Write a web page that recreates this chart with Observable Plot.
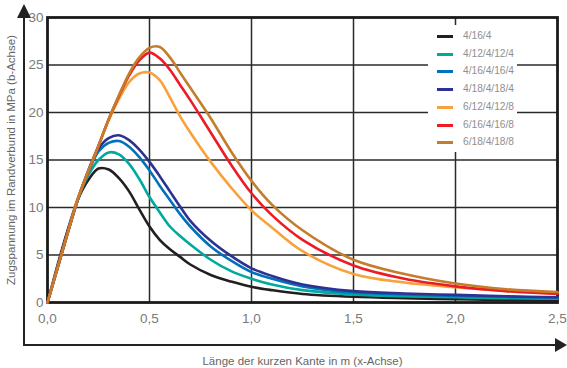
<!DOCTYPE html>
<html>
<head>
<meta charset="utf-8">
<script src="https://cdn.jsdelivr.net/npm/d3@7"></script>
<script src="https://cdn.jsdelivr.net/npm/@observablehq/plot@0.6"></script>
<style>
  html, body { margin: 0; padding: 0; background: #fff; }
  #wrap { position: relative; width: 567px; height: 368px; overflow: hidden; }
  #legend { position: absolute; left: 428px; top: 25px; width: 89px; height: 127px; background: #fff;
            font-family: "Liberation Sans", Arial, sans-serif; font-size: 10.2px; color: #8f8f8f; }
  .row { position: absolute; left: 0; height: 12px; }
  .sw { position: absolute; left: 9px; width: 16px; height: 3px; }
  .lb { position: absolute; left: 35px; white-space: nowrap; line-height: 12px; }
</style>
</head>
<body>
<div id="wrap"><div id="legend"></div></div>
<script>
// x positions (m)
const xs = [0, 0.05, 0.1, 0.15, 0.2, 0.25, 0.3, 0.35, 0.4, 0.45, 0.5, 0.55, 0.6, 0.65, 0.7, 0.8, 0.9, 1.0, 1.1, 1.25, 1.5, 1.75, 2.0, 2.25, 2.5];

// Zugspannung (MPa) per configuration
const y_4_16_4       = [0, 4.0, 7.7, 10.9, 12.9, 14.1, 14.0, 13.1, 11.7, 9.8, 8.0, 6.6, 5.6, 4.8, 4.0, 2.9, 2.2, 1.65, 1.3, 0.9, 0.6, 0.45, 0.35, 0.25, 0.2];
const y_4_12_4_12_4  = [0, 3.7, 7.4, 10.9, 13.4, 15.0, 15.8, 15.6, 14.6, 13.0, 11.1, 9.5, 8.0, 7.0, 6.1, 4.5, 3.3, 2.5, 1.9, 1.3, 0.85, 0.65, 0.55, 0.45, 0.4];
const y_4_16_4_16_4  = [0, 3.7, 7.4, 10.9, 13.7, 15.9, 16.8, 17.0, 16.4, 15.3, 13.9, 12.3, 10.8, 9.3, 8.0, 5.9, 4.4, 3.2, 2.5, 1.7, 1.05, 0.85, 0.7, 0.6, 0.5];
const y_4_18_4_18_4  = [0, 3.7, 7.4, 10.9, 13.9, 16.2, 17.3, 17.6, 17.1, 16.1, 14.8, 13.3, 11.7, 10.1, 8.6, 6.5, 4.9, 3.6, 2.8, 1.9, 1.2, 0.95, 0.8, 0.65, 0.55];
const y_6_12_4_12_8  = [0, 3.7, 7.4, 11.0, 13.8, 16.5, 19.2, 21.4, 23.2, 24.1, 24.2, 23.4, 21.6, 19.6, 17.9, 14.8, 12.1, 9.7, 7.9, 5.4, 3.0, 2.1, 1.6, 1.2, 1.0];
const y_6_16_4_16_8  = [0, 3.7, 7.4, 11.0, 13.8, 16.5, 19.3, 21.7, 23.9, 25.5, 26.3, 25.7, 24.5, 22.9, 21.3, 17.9, 14.5, 11.5, 9.2, 6.6, 3.9, 2.5, 1.7, 1.2, 0.9];
const y_6_18_4_18_8  = [0, 3.7, 7.4, 11.0, 13.8, 16.5, 19.3, 21.8, 24.1, 25.8, 26.8, 26.9, 25.8, 24.2, 22.6, 19.4, 15.9, 12.8, 10.3, 7.6, 4.5, 3.0, 2.0, 1.4, 1.1];

const seriesNames = ["4/16/4", "4/12/4/12/4", "4/16/4/16/4", "4/18/4/18/4", "6/12/4/12/8", "6/16/4/16/8", "6/18/4/18/8"];
const seriesValues = [y_4_16_4, y_4_12_4_12_4, y_4_16_4_16_4, y_4_18_4_18_4, y_6_12_4_12_8, y_6_16_4_16_8, y_6_18_4_18_8];
const seriesColors = ["#231f20", "#00a99d", "#0072bc", "#2e3192", "#f9a13a", "#ed1c24", "#c47d2a"];

const xTicks = [0, 0.5, 1.0, 1.5, 2.0, 2.5];
const yTicks = [0, 5, 10, 15, 20, 25, 30];
const xLabel = "Länge der kurzen Kante in m (x-Achse)";
const yLabel = "Zugspannung im Randverbund in MPa (b-Achse)";

const rows = [];
seriesNames.forEach((name, i) => xs.forEach((x, j) => rows.push({series: name, x, y: seriesValues[i][j]})));

const W = 567, H = 368;
const M = {top: 17, right: 10, bottom: 66, left: 47};
const tickColor = "#7a7a7a";
const font = "Liberation Sans, Arial, sans-serif";

const chart = Plot.plot({
  width: W, height: H,
  marginTop: M.top, marginRight: M.right, marginBottom: M.bottom, marginLeft: M.left,
  style: {fontFamily: font, background: "transparent"},
  x: {domain: [0, 2.5]},
  y: {domain: [0, 30]},
  color: {domain: seriesNames, range: seriesColors},
  marks: [
    Plot.gridX(xTicks.slice(1, -1), {stroke: "#2a2a2a", strokeOpacity: 1, strokeWidth: 1.5}),
    Plot.gridY(yTicks.slice(1, -1), {stroke: "#2a2a2a", strokeOpacity: 1, strokeWidth: 1.5}),
    Plot.frame({stroke: "#1a1a1a", strokeWidth: 2.8}),
    Plot.axisX({ticks: xTicks, tickSize: 0, tickPadding: 11, fontSize: 13.5, fill: tickColor,
      tickFormat: d => d.toFixed(1).replace(".", ","),
      label: xLabel, labelAnchor: "center", labelArrow: "none", labelOffset: 62}),
    Plot.axisY({ticks: yTicks, tickSize: 0, tickPadding: 4, fontSize: 13.5, fill: tickColor,
      label: yLabel, labelAnchor: "center", labelArrow: "none", labelOffset: 41}),
    Plot.line(rows, {x: "x", y: "y", z: "series", stroke: "series", strokeWidth: 2.6, curve: "catmull-rom"})
  ]
});

// style the axis titles
d3.select(chart).selectAll("text").filter(function() {
  const t = this.textContent; return t === xLabel || t === yLabel;
}).attr("font-size", 11.5).attr("fill", "#666");

// outer arrows (decoration)
const svg = d3.select(chart);
const ax = 24, ay = 345;
const g = svg.append("g").attr("fill", "#222").attr("stroke", "#222");
g.append("line").attr("x1", ax).attr("x2", ax).attr("y1", ay + 1).attr("y2", 16).attr("stroke-width", 2);
g.append("path").attr("d", `M${ax},4 L${ax - 7},18 L${ax + 7},18 Z`).attr("stroke", "none");
g.append("line").attr("x1", ax - 1).attr("x2", W - 10).attr("y1", ay).attr("y2", ay).attr("stroke-width", 2);
g.append("path").attr("d", `M${W},${ay} L${W - 12},${ay - 7} L${W - 12},${ay + 7} Z`).attr("stroke", "none");

const wrap = document.getElementById("wrap");
wrap.insertBefore(chart, wrap.firstChild);
chart.style.position = "absolute"; chart.style.left = "0"; chart.style.top = "0";

// legend
const legend = d3.select("#legend");
seriesNames.forEach((name, i) => {
  const r = legend.append("div").attr("class", "row").style("top", (5 + i * 17.7) + "px");
  r.append("div").attr("class", "sw").style("background", seriesColors[i]).style("top", "5px");
  r.append("div").attr("class", "lb").text(name);
});
</script>
</body>
</html>
